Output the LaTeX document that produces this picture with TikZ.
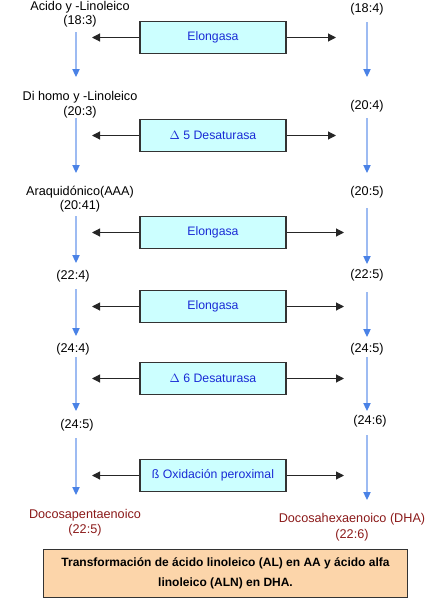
\documentclass[tikz,border=0pt]{standalone}
\usepackage{fontspec}
\setmainfont{Liberation Sans}
\usetikzlibrary{arrows.meta}
\definecolor{boxfill}{HTML}{CCFFFF}
\definecolor{boxtext}{HTML}{1A2BD6}
\definecolor{flowline}{HTML}{9DBBF2}
\definecolor{flowhead}{HTML}{4A82E6}
\definecolor{redtext}{HTML}{8B1A1A}
\definecolor{notefill}{HTML}{FCD5AA}
\begin{document}
\begin{tikzpicture}[x=0.75pt,y=-0.75pt,
  lbl/.style={font=\fontsize{9.5}{11}\selectfont,inner sep=0pt,align=center},
  enz/.style={draw=black!80,fill=boxfill,line width=0.8pt,minimum width=109.5pt,minimum height=24.5pt,inner sep=0pt,font=\fontsize{9.2}{11}\selectfont,text=boxtext},
  harr/.style={draw=black!85,line width=0.8pt,-{Triangle[length=6pt,width=6pt]}},
  varr/.style={draw=flowline,line width=0.8pt,-{Triangle[length=6pt,width=5.5pt,color=flowhead]}}]
\useasboundingbox (0,0) rectangle (430,607);
% left labels
\node[lbl] (l1) at (80,7) {Acido y -Linoleico};
\node[lbl] (l1b) at (80,21) {(18:3)};
\node[lbl] (l2) at (80,97) {Di homo y -Linoleico};
\node[lbl] (l2b) at (80,112) {(20:3)};
\node[lbl] (l3) at (80,192) {Araquidónico(AAA)};
\node[lbl] (l3b) at (80,206) {(20:41)};
\node[lbl] (l4) at (73,276) {(22:4)};
\node[lbl] (l5) at (73,349) {(24:4)};
\node[lbl] (l6) at (77,425) {(24:5)};
\node[lbl,text=redtext] (l7) at (85,515) {Docosapentaenoico};
\node[lbl,text=redtext] (l7b) at (85,530) {(22:5)};
% right labels
\node[lbl] (r1) at (367,9) {(18:4)};
\node[lbl] (r2) at (367,106) {(20:4)};
\node[lbl] (r3) at (367,192) {(20:5)};
\node[lbl] (r4) at (367,275) {(22:5)};
\node[lbl] (r5) at (367,349) {(24:5)};
\node[lbl] (r6) at (370,421) {(24:6)};
\node[lbl,text=redtext] (r7) at (352,519) {Docosahexaenoico (DHA)};
\node[lbl,text=redtext] (r7b) at (352,535) {(22:6)};
% coordinates for vertical arrows
\coordinate (la1) at (76,32); \coordinate (lb1) at (76,77);
\coordinate (la2) at (76,118); \coordinate (lb2) at (76,173);
\coordinate (la3) at (76,216); \coordinate (lb3) at (76,263);
\coordinate (la4) at (76,289); \coordinate (lb4) at (76,336);
\coordinate (la5) at (76,357); \coordinate (lb5) at (76,411);
\coordinate (la6) at (76,438); \coordinate (lb6) at (76,495);
\coordinate (ra1) at (367,22); \coordinate (rb1) at (367,77);
\coordinate (ra2) at (367,118); \coordinate (rb2) at (367,173);
\coordinate (ra3) at (367,208); \coordinate (rb3) at (367,264);
\coordinate (ra4) at (367,292); \coordinate (rb4) at (367,337);
\coordinate (ra5) at (367,357); \coordinate (rb5) at (367,411);
\coordinate (ra6) at (367,435); \coordinate (rb6) at (367,500);
\foreach \i in {1,...,6}{
  \draw[varr] (la\i) -- (lb\i);
  \draw[varr] (ra\i) -- (rb\i);
}
% enzyme boxes
\node[enz] (e1) at (213,37.5) {Elongasa};
\node[enz] (e2) at (213,135.5) {$\Delta$ 5 Desaturasa};
\node[enz] (e3) at (213,232.5) {Elongasa};
\node[enz] (e4) at (213,306.5) {Elongasa};
\node[enz] (e5) at (213,378.5) {$\Delta$ 6 Desaturasa};
\node[enz] (e6) at (213,475.5) {ß Oxidación peroximal};
% horizontal arrow ends
\coordinate (hl1) at (92,37.5); \coordinate (hr1) at (336,37.5);
\coordinate (hl2) at (92,135.5); \coordinate (hr2) at (336,135.5);
\coordinate (hl3) at (92,232.5); \coordinate (hr3) at (344,232.5);
\coordinate (hl4) at (92,306.5); \coordinate (hr4) at (344,306.5);
\coordinate (hl5) at (92,378.5); \coordinate (hr5) at (344,378.5);
\coordinate (hl6) at (92,475.5); \coordinate (hr6) at (344,475.5);
\foreach \i in {1,...,6}{
  \draw[harr] (e\i.west) -- (hl\i);
  \draw[harr] (e\i.east) -- (hr\i);
}
% caption box
\node[draw=black!80,line width=0.9pt,fill=notefill,minimum width=273.5pt,minimum height=36.5pt,inner sep=0pt,align=center,font=\bfseries\fontsize{9}{14.5}\selectfont] (cap) at (225.5,573.5) {Transformación de ácido linoleico (AL) en AA y ácido alfa\\linoleico (ALN) en DHA.};
\end{tikzpicture}
\end{document}
